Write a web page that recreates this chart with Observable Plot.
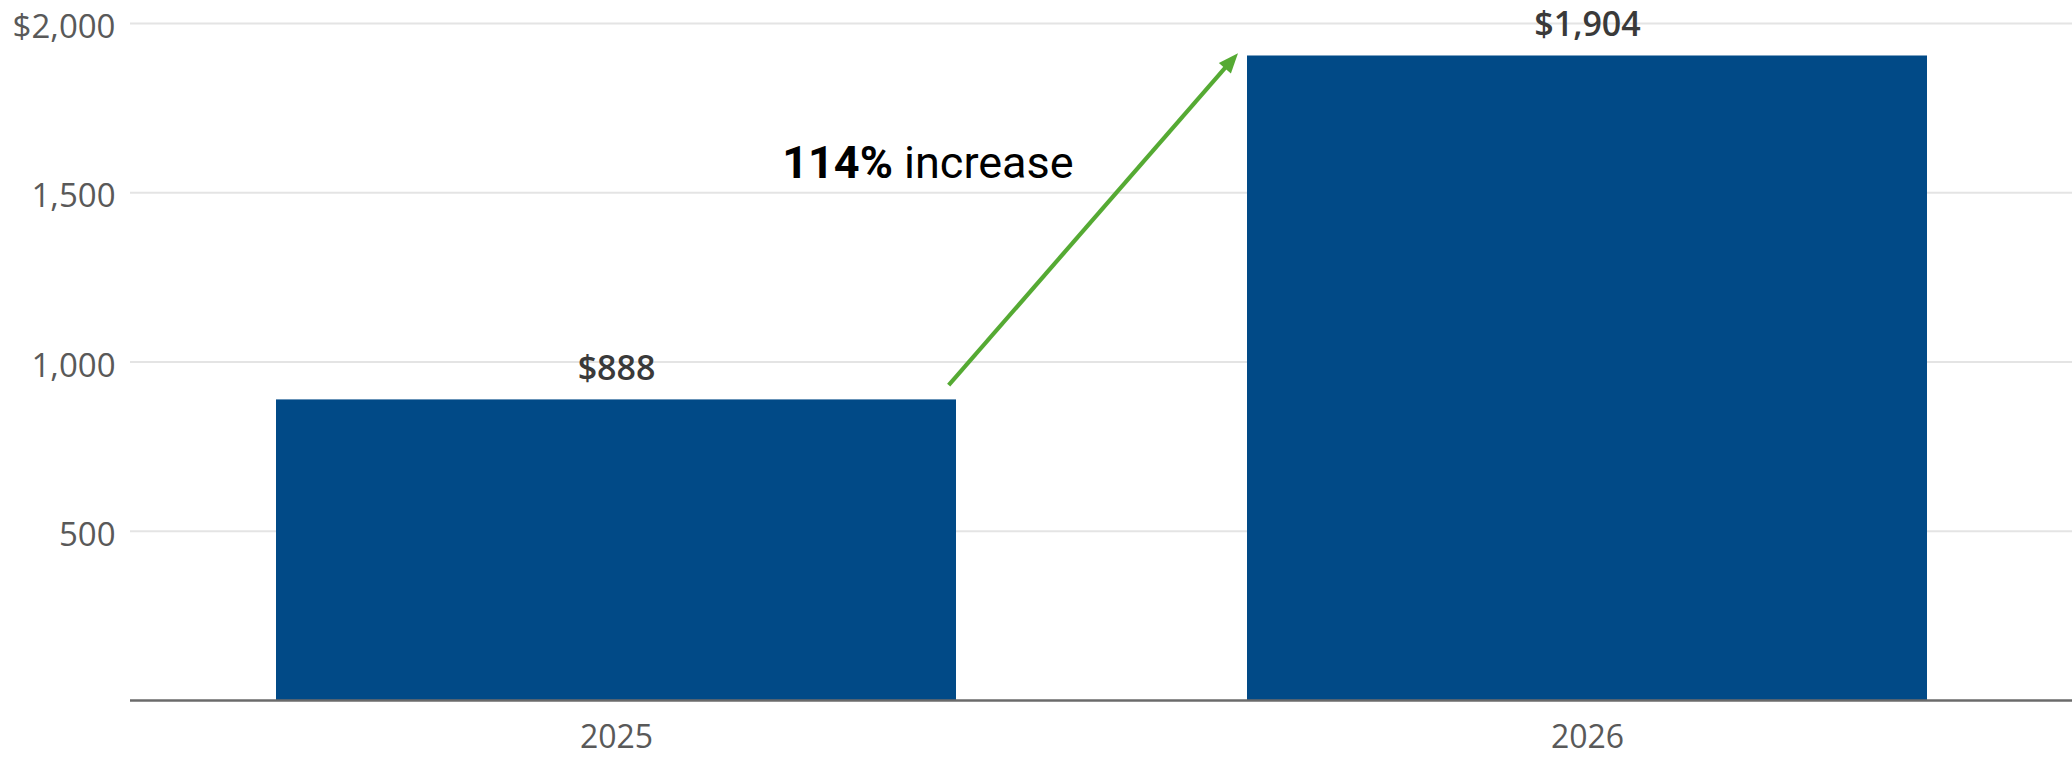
<!DOCTYPE html>
<html>
<head>
<meta charset="utf-8">
<script src="https://cdn.jsdelivr.net/npm/d3@7"></script>
<script src="https://cdn.jsdelivr.net/npm/@observablehq/plot@0.6"></script>
<style>
  html, body { margin: 0; padding: 0; background: #ffffff; }
  #chart svg { display: block; }
</style>
</head>
<body>
<div id="chart"></div>
<script>
// ---- data ----
const categories = ["2025", "2026"];
const seriesValues = [888, 1904];
const valueLabels = ["$888", "$1,904"];
const yTicks = [500, 1000, 1500, 2000];
const yTickLabels = ["500", "1,000", "1,500", "$2,000"];
const annotationBold = "114%";
const annotationRest = " increase";
const arrowFrom = { year: "2025", value: 930 };
const arrowTo = { year: "2026", value: 1911 };
const annotationValue = 1542;

const data = categories.map((c, i) => ({ year: c, value: seriesValues[i], label: valueLabels[i] }));

const BAR = "#014a87";
const GREEN = "#55aa33";
const PAD_INNER = 0.3;

function annotation(index, scales) {
  const x = scales.x, y = scales.y;
  const step = x(categories[1]) - x(categories[0]);
  const bw = step * (1 - PAD_INNER);
  const x1 = x(arrowFrom.year) + bw - 7;
  const y1 = y(arrowFrom.value);
  const x2 = x(arrowTo.year) - 9;
  const y2 = y(arrowTo.value);
  const g = d3.create("svg:g");
  const ang = Math.atan2(y2 - y1, x2 - x1);
  const hl = 20, hw = 8;
  const bx = x2 - hl * Math.cos(ang), by = y2 - hl * Math.sin(ang);
  g.append("line")
    .attr("x1", x1).attr("y1", y1)
    .attr("x2", bx + 2 * Math.cos(ang)).attr("y2", by + 2 * Math.sin(ang))
    .attr("stroke", GREEN).attr("stroke-width", 4.2);
  const px = -Math.sin(ang), py = Math.cos(ang);
  g.append("path")
    .attr("d", `M${x2},${y2}L${bx + hw * px},${by + hw * py}L${bx - hw * px},${by - hw * py}Z`)
    .attr("fill", GREEN);
  const t = g.append("text")
    .attr("x", x(arrowFrom.year) + bw + 118)
    .attr("y", y(annotationValue))
    .attr("text-anchor", "end")
    .attr("font-family", "Roboto, 'Noto Sans', sans-serif")
    .attr("font-size", 45)
    .attr("fill", "#000");
  t.append("tspan").attr("font-weight", 700).text(annotationBold);
  t.append("tspan").attr("font-weight", 400).text(annotationRest);
  return g.node();
}

const chart = Plot.plot({
  width: 2072,
  height: 758,
  marginLeft: 130,
  marginRight: 0,
  marginTop: 23,
  marginBottom: 58,
  style: { fontFamily: "'Open Sans', 'Noto Sans', sans-serif", background: "#ffffff" },
  x: { domain: categories, paddingInner: PAD_INNER, paddingOuter: 0.15, label: null },
  y: { domain: [0, 2000], label: null },
  marks: [
    Plot.gridY(yTicks, { stroke: "#e4e4e4", strokeOpacity: 1, strokeWidth: 2 }),
    Plot.axisY(yTicks, {
      tickSize: 0, tickPadding: 15, fontSize: 33, fill: "#595959", dy: 4,
      tickFormat: (d) => yTickLabels[yTicks.indexOf(d)], label: null
    }),
    Plot.barY(data, { x: "year", y: "value", fill: BAR }),
    Plot.ruleY([0], { stroke: "#6b6b6b", strokeWidth: 2.5 }),
    Plot.axisX({ tickSize: 0, tickPadding: 25, fontSize: 32, fill: "#595959", label: null }),
    Plot.text(data, {
      x: "year", y: "value", text: "label", dy: -31,
      fontSize: 34, fontWeight: 600, fill: "#3a3a3a"
    }),
    annotation
  ]
});
document.getElementById("chart").append(chart);
</script>
</body>
</html>
